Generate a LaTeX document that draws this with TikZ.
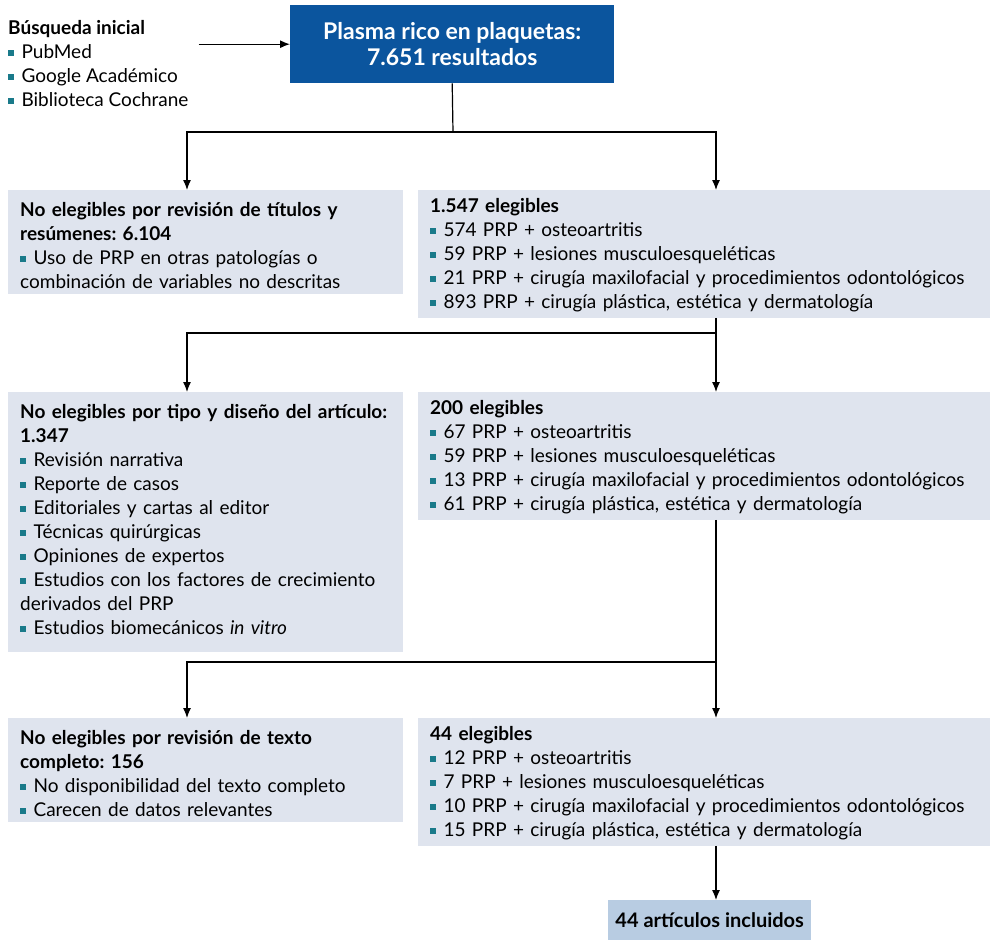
\documentclass[tikz,border=0pt]{standalone}
\usepackage{fontspec}
\setmainfont{Lato}
\usetikzlibrary{arrows.meta}
\frenchspacing
\definecolor{prpblue}{HTML}{0B559E}
\definecolor{prpbox}{HTML}{DFE4EE}
\definecolor{prpfinal}{HTML}{B8CCE2}
\definecolor{prpteal}{HTML}{1A7A8A}
\newcommand{\bul}{{\color{prpteal}\rule[0.25ex]{0.6ex}{0.6ex}}\hspace{0.4em}}
\newcommand{\topL}{\rule{0pt}{20pt}}
\newcommand{\topR}{\rule{0pt}{16pt}}
\newcommand{\boxfont}{\fontsize{19}{24}\selectfont\hyphenpenalty=10000\relax}

\begin{document}
\begin{tikzpicture}[x=1pt,y=-1pt,
    box/.style={fill=prpbox,anchor=north west,align=left,inner xsep=12pt,inner ysep=6pt,font=\boxfont},
    arr/.style={-{Latex[length=10pt,width=8pt]},line width=1.2pt}]
    \useasboundingbox (0,0) rectangle (990,940);
    \node[anchor=north west,align=left,inner sep=0pt,font=\fontsize{19}{24}\selectfont] (search) at (8,20) {\textbf{Búsqueda inicial}\\ \bul PubMed\\ \bul Google Académico\\ \bul Biblioteca Cochrane};
    \node[fill=prpblue,text=white,anchor=north west,align=center,minimum width=324pt,minimum height=78pt,font=\bfseries\fontsize{23}{26}\selectfont] (start) at (290,5) {Plasma rico en plaquetas:\\ 7.651 resultados};
    \node[box,text width=371pt] (excl1) at (8,190) {\topL\textbf{No elegibles por revisión de títulos y}\\ \textbf{resúmenes: 6.104}\\ \bul Uso de PRP en otras patologías o\\ combinación de variables no descritas};
    \node[box,text width=548pt] (elig1) at (418,190) {\topR\textbf{1.547 elegibles}\\ \bul 574 PRP + osteoartritis\\ \bul 59 PRP + lesiones musculoesqueléticas\\ \bul 21 PRP + cirugía maxilofacial y procedimientos odontológicos\\ \bul 893 PRP + cirugía plástica, estética y dermatología};
    \node[box,text width=371pt] (excl2) at (8,392) {\topL\textbf{No elegibles por tipo y diseño del artículo:}\\ \textbf{1.347}\\ \bul Revisión narrativa\\ \bul Reporte de casos\\ \bul Editoriales y cartas al editor\\ \bul Técnicas quirúrgicas\\ \bul Opiniones de expertos\\ \bul Estudios con los factores de crecimiento\\ derivados del PRP\\ \bul Estudios biomecánicos \textit{in vitro}\rule[-12pt]{0pt}{0pt}};
    \node[box,text width=548pt] (elig2) at (418,392) {\topR\textbf{200 elegibles}\\ \bul 67 PRP + osteoartritis\\ \bul 59 PRP + lesiones musculoesqueléticas\\ \bul 13 PRP + cirugía maxilofacial y procedimientos odontológicos\\ \bul 61 PRP + cirugía plástica, estética y dermatología};
    \node[box,text width=371pt] (excl3) at (8,718) {\topL\textbf{No elegibles por revisión de texto}\\ \textbf{completo: 156}\\ \bul No disponibilidad del texto completo\\ \bul Carecen de datos relevantes};
    \node[box,text width=548pt] (elig3) at (418,718) {\topR\textbf{44 elegibles}\\ \bul 12 PRP + osteoartritis\\ \bul 7 PRP + lesiones musculoesqueléticas\\ \bul 10 PRP + cirugía maxilofacial y procedimientos odontológicos\\ \bul 15 PRP + cirugía plástica, estética y dermatología};
    \node[fill=prpfinal,anchor=north west,minimum width=203pt,minimum height=40pt,font=\bfseries\fontsize{20}{24}\selectfont] (final) at (608,900) {44 artículos incluidos};
    \coordinate (colL) at (187,0);
    \coordinate (colR) at (716,0);
    \coordinate (j1) at (453,132);
    \coordinate (j2) at (716,333);
    \coordinate (j3) at (716,662);
    \draw[arr] ([xshift=10pt]search.east |- start.west) -- (start.west);
    \draw[line width=1.2pt] (start.south) -- (j1);
    \draw[arr] (j1) -| (excl1.north -| colL);
    \draw[arr] (j1) -| (elig1.north -| colR);
    \draw[line width=1.2pt] (elig1.south -| colR) -- (j2);
    \draw[arr] (j2) -- (elig2.north -| colR);
    \draw[arr] (j2) -| (excl2.north -| colL);
    \draw[line width=1.2pt] (elig2.south -| colR) -- (j3);
    \draw[arr] (j3) -- (elig3.north -| colR);
    \draw[arr] (j3) -| (excl3.north -| colL);
    \draw[arr] (elig3.south -| colR) -- (final.north -| colR);
\end{tikzpicture}
\end{document}
